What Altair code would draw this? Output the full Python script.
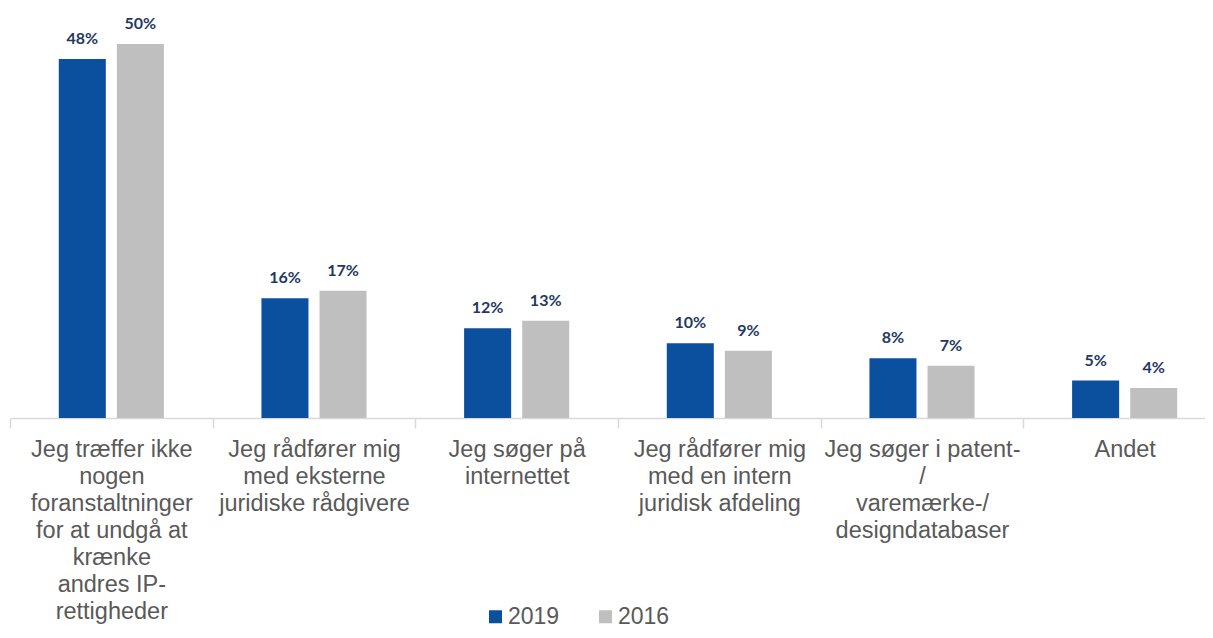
import altair as alt
import pandas as pd

categories = [
    "Jeg træffer ikke|nogen|foranstaltninger|for at undgå at|krænke|andres IP-|rettigheder",
    "Jeg rådfører mig|med eksterne|juridiske rådgivere",
    "Jeg søger på|internettet",
    "Jeg rådfører mig|med en intern|juridisk afdeling",
    "Jeg søger i patent-|/|varemærke-/|designdatabaser",
    "Andet",
]
series = ["2019", "2016"]
values_2019 = [48, 16, 12, 10, 8, 5]
values_2016 = [50, 17, 13, 9, 7, 4]
colors = ["#0B4F9F", "#BFBFBF"]

rows = []
for c, v in zip(categories, values_2019):
    rows.append({"cat": c, "year": "2019", "value": v, "label": f"{v}%"})
for c, v in zip(categories, values_2016):
    rows.append({"cat": c, "year": "2016", "value": v, "label": f"{v}%"})
df = pd.DataFrame(rows)

x = alt.X(
    "cat:N",
    sort=categories,
    title=None,
    scale=alt.Scale(paddingInner=0, paddingOuter=0, range=[0, 1216]),
    axis=alt.Axis(
        labelAngle=0,
        labelExpr="split(datum.label, '|')",
        labelFont="Liberation Sans",
        labelFontSize=23.5,
        labelLineHeight=27,
        labelColor="#595959",
        labelLimit=0,
        labelPadding=9,
        labelBaseline="top",
        domainColor="#D9D9D9",
        domainWidth=1.5,
        tickColor="#D9D9D9",
        tickWidth=1.5,
        tickSize=10,
        tickBand="extent",
    ),
)
xoff = alt.XOffset(
    "year:N",
    sort=series,
    scale=alt.Scale(paddingInner=0.19, paddingOuter=0.84),
)
y = alt.Y("value:Q", scale=alt.Scale(domain=[0, 50]), axis=None)

bars = alt.Chart(df).mark_bar().encode(
    x=x,
    xOffset=xoff,
    y=y,
    color=alt.Color(
        "year:N",
        sort=series,
        scale=alt.Scale(domain=series, range=colors),
        legend=alt.Legend(
            title=None,
            orient="none",
            direction="horizontal",
            legendX=474,
            legendY=561,
            symbolType="square",
            symbolSize=169,
            symbolStrokeWidth=0,
            labelFont="Liberation Sans",
            labelFontSize=23,
            labelColor="#595959",
            labelOffset=1,
            columnPadding=34,
        ),
    ),
)

text = alt.Chart(df).mark_text(
    baseline="alphabetic",
    dy=-15,
    font="Lato",
    fontWeight="bold",
    fontSize=16,
    color="#1F3864",
).encode(x=x, xOffset=xoff, y=y, text="label:N")

chart = (
    alt.layer(bars, text)
    .properties(
        width=1195,
        height=374,
        autosize=alt.AutoSizeParams(type="none"),
        padding={"left": 2, "top": 36, "right": 0, "bottom": 212},
    )
    .configure_view(stroke=None)
)

chart.save("out.html", embed_options={"renderer": "svg", "actions": False})
